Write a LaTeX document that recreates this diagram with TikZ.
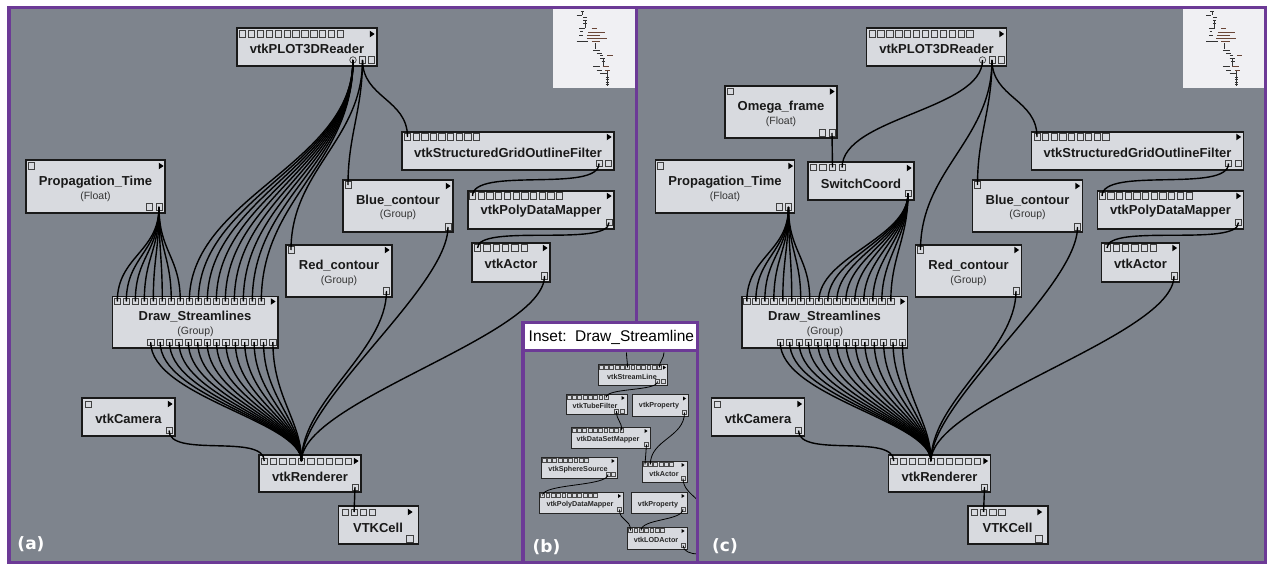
\documentclass[tikz,border=0pt]{standalone}
\usepackage{fontspec}
\setmainfont{Liberation Sans}
\newfontfamily\labfont{DejaVu Sans}
\usetikzlibrary{fit}
\definecolor{bggray}{RGB}{126,132,141}
\definecolor{boxfill}{RGB}{216,218,223}
\definecolor{framepurple}{RGB}{108,58,150}
\definecolor{mapbg}{RGB}{240,240,243}
\definecolor{mapbrown}{RGB}{105,70,55}
\tikzset{
 blk/.style={draw=black!90, line width=1.5pt, fill=boxfill, inner sep=0pt},
 sblk/.style={draw=black!85, line width=0.8pt, fill=boxfill, inner sep=0pt},
 prt/.style={draw=black!75, line width=0.7pt, fill=boxfill, minimum size=6.3pt, inner sep=0pt, rectangle},
 sprt/.style={draw=black!70, line width=0.45pt, fill=boxfill, minimum size=3.8pt, inner sep=0pt, rectangle},
 cprt/.style={draw=black!75, line width=0.7pt, fill=boxfill, circle, minimum size=6.5pt, inner sep=0pt},
 ttl/.style={font=\fontsize{13}{15}\selectfont\bfseries, text=black!90, inner sep=0pt},
 subt/.style={font=\fontsize{10.5}{12}\selectfont, text=black!80, inner sep=0pt},
 sttl/.style={font=\fontsize{7.2}{8}\selectfont\bfseries, text=black!85, inner sep=0pt},
 wire/.style={draw=black, line width=1.4pt},
 swire/.style={draw=black, line width=0.8pt},
 mapline/.style={draw=black!80, line width=0.7pt},
 panellab/.style={font=\labfont\fontsize{17}{19}\selectfont\bfseries, text=white, inner sep=0pt},
}
\newcommand\portrow[6]{\foreach \i in {1,...,#5}{\node[#1] (#2\i) at ({#3+(\i-1)*(#4)},#6) {};}}
\newcommand\trimark[2]{\fill[black] ({#1-2.2},{#2-3.3}) -- ({#1+2.6},{#2}) -- ({#1-2.2},{#2+3.3}) -- cycle;}
\newcommand\strimark[2]{\fill[black] ({#1-1.4},{#2-2}) -- ({#1+1.6},{#2}) -- ({#1-1.4},{#2+2}) -- cycle;}
\newcommand\panelcore[1]{%
 % minimap
 \node[fill=mapbg, inner sep=0pt, fit={(553,9)(635,88)}] (#1mm) {};
 \foreach \xa/\xb/\yy in {580.7/584/11, 576.7/581.7/15.7, 583.3/587.3/17.3, 583.3/586.7/20, 583.3/586.7/23.3, 579.3/585/28.3, 580/582.7/31.7, 579.3/583.3/35, 576.7/588.3/41.7, 593.3/600/50, 596.7/601.7/53.3, 600/603.3/55.7, 600/605/58.3, 601.7/605/61.7, 593.3/600/66.7, 596.7/601.7/70, 600/606.7/73.3, 605.5/608.5/77, 605.5/608.5/79.5, 605.5/608.5/82, 605.5/608.5/84.5}
   {\draw[mapline] (\xa,\yy) -- (\xb,\yy);}
 \foreach \xa/\xb/\yy in {591.7/596.7/28.3, 588.3/605/32.3, 587.3/600/35.7, 586.7/606.7/38.3, 591.7/600/41.7, 607.3/612.7/55, 602.7/609.3/66.7, 605/610/70}
   {\draw[mapline, draw=mapbrown] (\xa,\yy) -- (\xb,\yy);}
 \draw[mapline, line width=0.5pt] (582.5,12) -- (582.5,15) (585,21) -- (585,28) (595,43) -- (595,49) (603,58) -- (603,66) (607,71) -- (607,86);
 % vtkPLOT3DReader
 \node[blk, fit={(237,28)(377,66)}] (#1pr) {};
 \portrow{prt}{#1prt}{242.5}{8.9}{12}{34}
 \trimark{372}{34}
 \node[ttl] (#1prl) at (307,49) {vtkPLOT3DReader};
 \node[cprt] (#1prc) at (353,60) {};
 \portrow{prt}{#1prb}{362.5}{9}{2}{60}
 % Propagation_Time
 \node[blk, fit={(26,160)(165,213)}] (#1pt) {};
 \node[prt] (#1ptt1) at (31,166) {};
 \trimark{161}{166}
 \node[ttl] (#1ptl) at (95.5,182) {Propagation\_Time};
 \node[subt] (#1pts) at (95.5,196.5) {(Float)};
 \portrow{prt}{#1ptb}{149.5}{9.5}{2}{207}
 % Blue_contour
 \node[blk, fit={(343,180)(453,232)}] (#1bc) {};
 \node[prt] (#1bct1) at (348,185) {};
 \trimark{448}{186}
 \node[ttl] (#1bcl) at (398,200.5) {Blue\_contour};
 \node[subt] (#1bcs) at (398,215) {(Group)};
 \node[prt] (#1bcb1) at (448,227) {};
 % Red_contour
 \node[blk, fit={(286,245)(392,297)}] (#1rc) {};
 \node[prt] (#1rct1) at (291,250) {};
 \trimark{387}{250}
 \node[ttl] (#1rcl) at (339,266) {Red\_contour};
 \node[subt] (#1rcs) at (339,280.5) {(Group)};
 \node[prt] (#1rcb1) at (386.5,291) {};
 % vtkStructuredGridOutlineFilter
 \node[blk, fit={(402,132)(614,170)}] (#1sg) {};
 \portrow{prt}{#1sgt}{407.5}{8.6}{9}{137}
 \trimark{609}{137}
 \node[ttl] (#1sgl) at (508,153) {vtkStructuredGridOutlineFilter};
 \portrow{prt}{#1sgb}{599}{9.5}{2}{163.5}
 % vtkPolyDataMapper
 \node[blk, fit={(468,191)(614,229)}] (#1pm) {};
 \portrow{prt}{#1pmt}{472.5}{8.7}{11}{196}
 \trimark{609}{196}
 \node[ttl] (#1pml) at (541,211.5) {vtkPolyDataMapper};
 \node[prt] (#1pmb1) at (609,222.5) {};
 % vtkActor
 \node[blk, fit={(472,243)(550,282)}] (#1ac) {};
 \portrow{prt}{#1act}{477.5}{9.3}{6}{248}
 \trimark{545}{248}
 \node[ttl] (#1acl) at (511,264) {vtkActor};
 \node[prt] (#1acb1) at (544.5,276) {};
 % Draw_Streamlines
 \node[blk, fit={(112.7,296.7)(278,348)}] (#1ds) {};
 \portrow{prt}{#1dst}{117.3}{9}{17}{301.5}
 \trimark{273}{301.5}
 \node[ttl] (#1dsl) at (195,316.5) {Draw\_Streamlines};
 \node[subt] (#1dss) at (195.5,331.5) {(Group)};
 \portrow{prt}{#1dsb}{150.7}{9.4}{14}{342}
 % vtkCamera
 \node[blk, fit={(82,398)(175,436)}] (#1cm) {};
 \node[prt] (#1cmt1) at (88,404) {};
 \trimark{170}{404}
 \node[ttl] (#1cml) at (128.5,418.5) {vtkCamera};
 \node[prt] (#1cmb1) at (169,430.5) {};
 % vtkRenderer
 \node[blk, fit={(259,455)(361,492)}] (#1rn) {};
 \portrow{prt}{#1rnt}{264.3}{9.3}{10}{461}
 \trimark{356}{461}
 \node[ttl] (#1rnl) at (310,476.5) {vtkRenderer};
 \node[prt] (#1rnb1) at (355,487) {};
 % VTKCell
 \node[blk, fit={(338.3,506)(418.3,544)}] (#1vc) {};
 \portrow{prt}{#1vct}{345}{9.1}{4}{512}
 \trimark{410}{512}
 \node[ttl] (#1vcl) at (378,527.5) {VTKCell};
 \node[prt, minimum size=7pt] (#1vcb1) at (409.5,538.5) {};
 % connectors
 \draw[wire] (#1prb1.center) .. controls +(0,80) and +(0,-80) .. (#1rct1.center);
 \draw[wire] (#1prb1.center) .. controls +(0,50) and +(0,-50) .. (#1bct1.center);
 \draw[wire] (#1prb1.center) .. controls +(0,38) and +(0,-38) .. (#1sgt1.center);
 \foreach \j in {1,...,8}{\draw[wire] (#1ptb2.center) .. controls +(0,45) and +(0,-45) .. (#1dst\j.center);}
 \foreach \j in {1,...,14}{\draw[wire] (#1dsb\j.center) .. controls +(0,55) and +(0,-40) .. (#1rnt5.center);}
 \draw[wire] (#1rcb1.center) .. controls +(0,60) and +(0,-60) .. (#1rnt5.center);
 \draw[wire] (#1bcb1.center) .. controls +(0,60) and +(0,-60) .. (#1rnt5.center);
 \draw[wire] (#1acb1.center) .. controls +(0,60) and +(0,-60) .. (#1rnt5.center);
 \draw[wire] (#1cmb1.center) .. controls +(0,28) and +(0,-28) .. (#1rnt1.center);
 \draw[wire] (#1rnb1.center) -- (#1vct2.center);
 \draw[wire] (#1sgb1.center) .. controls +(0,30) and +(0,-30) .. (#1pmt1.center);
 \draw[wire] (#1pmb1.center) .. controls +(0,25) and +(0,-25) .. (#1act1.center);
}
\begin{document}
\begin{tikzpicture}[x=1pt,y=-1pt]
\useasboundingbox (0,0) rectangle (1267,564);
\fill[white] (0,0) rectangle (1267,564);
\fill[bggray] (9,7.6) rectangle (1265.5,562.5);
% panel (a)
\panelcore{a}
\foreach \j in {9,...,17}{\draw[wire] (aprc.center) .. controls +(0,105) and +(0,-105) .. (adst\j.center);}
% panel (c)
\begin{scope}[xshift=629.5pt]
\panelcore{c}
\end{scope}
% Omega_frame
\node[blk, fit={(725,86)(837,138)}] (com) {};
\node[prt] (comt1) at (730,91.5) {};
\trimark{832}{91.5}
\node[ttl] (coml) at (781,107.5) {Omega\_frame};
\node[subt] (coms) at (781,122) {(Float)};
\portrow{prt}{comb}{822.5}{9.5}{2}{133}
% SwitchCoord
\node[blk, fit={(808,162)(914,200)}] (csw) {};
\portrow{prt}{cswt}{813.3}{9.6}{4}{167.5}
\trimark{909}{168}
\node[ttl] (cswl) at (861,183.5) {SwitchCoord};
\node[prt] (cswb1) at (908,193.5) {};
\draw[wire] (cprc.center) .. controls +(0,50) and +(0,-50) .. (cswt4.center);
\draw[wire] (comb2.center) -- (cswt3.center);
\foreach \j in {9,...,17}{\draw[wire] (cswb1.center) .. controls +(0,45) and +(0,-45) .. (cdst\j.center);}
% inset (b)
\fill[bggray] (523,322.5) rectangle (697.7,562.5);
\fill[white] (523,322.5) rectangle (697.7,350.8);
\node[font=\fontsize{15.5}{17}\selectfont, inner sep=0pt] (insl) at (611.4,337.5) {Inset:\ \ Draw\_Streamline};
% vtkStreamLine
\node[sblk, fit={(598,364)(667,385)}] (isl) {};
\portrow{sprt}{islt}{601}{5.3}{12}{367.5}
\strimark{664.5}{367.5}
\node[sttl] (isll) at (632,376.5) {vtkStreamLine};
\portrow{sprt}{islb}{657.5}{5.5}{2}{381.5}
% vtkTubeFilter
\node[sblk, fit={(566,394)(627,414)}] (itf) {};
\portrow{sprt}{itft}{569}{5.3}{8}{397.5}
\strimark{623}{398}
\node[sttl] (itfl) at (595,406) {vtkTubeFilter};
\portrow{sprt}{itfb}{616.5}{6}{2}{411}
% vtkProperty 1
\node[sblk, fit={(632,394)(688,416)}] (ip1) {};
\strimark{684.5}{398.5}
\node[sttl] (ip1l) at (659,406) {vtkProperty};
\node[sprt] (ip1b1) at (684.5,412.5) {};
% vtkDataSetMapper
\node[sblk, fit={(571,427)(650,448)}] (idm) {};
\portrow{sprt}{idmt}{574}{5.3}{10}{430.5}
\strimark{646}{431}
\node[sttl] (idml) at (608,439.5) {vtkDataSetMapper};
\node[sprt] (idmb1) at (646.5,444.5) {};
% vtkSphereSource
\node[sblk, fit={(541,457)(617,478)}] (iss) {};
\portrow{sprt}{isst}{544}{5.3}{9}{460.5}
\strimark{613}{461}
\node[sttl] (issl) at (578,469.5) {vtkSphereSource};
\portrow{sprt}{issb}{608}{5.5}{2}{474.5}
% vtkActor (inset)
\node[sblk, fit={(642,461)(687,482)}] (iac) {};
\portrow{sprt}{iact}{645}{5.3}{6}{464.5}
\strimark{683}{465}
\node[sttl] (iacl) at (664,474) {vtkActor};
\node[sprt] (iacb1) at (683,478.5) {};
% vtkPolyDataMapper (inset)
\node[sblk, fit={(539,492)(623,513)}] (ipm) {};
\portrow{sprt}{ipmt}{542.5}{5.3}{11}{495.5}
\strimark{619.5}{496}
\node[sttl] (ipml) at (580,504.5) {vtkPolyDataMapper};
\node[sprt] (ipmb1) at (619.5,509.5) {};
% vtkProperty 2
\node[sblk, fit={(631,492)(687,513)}] (ip2) {};
\strimark{683}{496}
\node[sttl] (ip2l) at (658,504.5) {vtkProperty};
\node[sprt] (ip2b1) at (683,509) {};
% vtkLODActor
\node[sblk, fit={(627,527)(687,549)}] (ilo) {};
\portrow{sprt}{ilot}{630.5}{5.3}{7}{530.5}
\strimark{683}{531}
\node[sttl] (ilol) at (656,539.5) {vtkLODActor};
\node[sprt] (ilob1) at (683,545.5) {};
% inset connectors
\coordinate (iin1) at (626.5,352.5);
\coordinate (iin2) at (664,352.5);
\coordinate (iout1) at (697.5,500);
\coordinate (iout2) at (697.5,554);
\draw[swire] (iin1) .. controls +(0,6) and +(0,-6) .. (islt6.center);
\draw[swire] (iin2) .. controls +(0,6) and +(0,-6) .. (islt12.center);
\draw[swire] (islb1.center) .. controls +(0,10) and +(0,-10) .. (itft8.center);
\draw[swire] (itfb1.center) .. controls +(0,10) and +(0,-10) .. (idmt10.center);
\draw[swire] (idmb1.center) .. controls +(0,10) and +(0,-10) .. (iact1.center);
\draw[swire] (ip1b1.center) .. controls +(0,25) and +(0,-25) .. (iact2.center);
\draw[swire] (iacb1.center) .. controls +(0,10) and +(-6,-6) .. (iout1);
\draw[swire] (issb1.center) .. controls +(0,12) and +(0,-12) .. (ipmt1.center);
\draw[swire] (ipmb1.center) .. controls +(0,12) and +(0,-12) .. (ilot1.center);
\draw[swire] (ip2b1.center) .. controls +(0,12) and +(0,-12) .. (ilot3.center);
\draw[swire] (ilob1.center) .. controls +(0,6) and +(-6,0) .. (iout2);
% frames
\draw[framepurple, line width=3.3pt] (9,7.6) rectangle (1265.5,562.5);
\draw[framepurple, line width=3.3pt] (636.5,7.6) -- (636.5,322.5);
\draw[framepurple, line width=3.3pt] (523,322.5) rectangle (697.7,562.5);
\draw[framepurple, line width=3.3pt] (523,350.8) -- (697.7,350.8);
% panel labels
\node[panellab] (laba) at (31,544) {(a)};
\node[panellab] (labb) at (546.5,547) {(b)};
\node[panellab] (labc) at (725,546) {(c)};
\end{tikzpicture}
\end{document}
